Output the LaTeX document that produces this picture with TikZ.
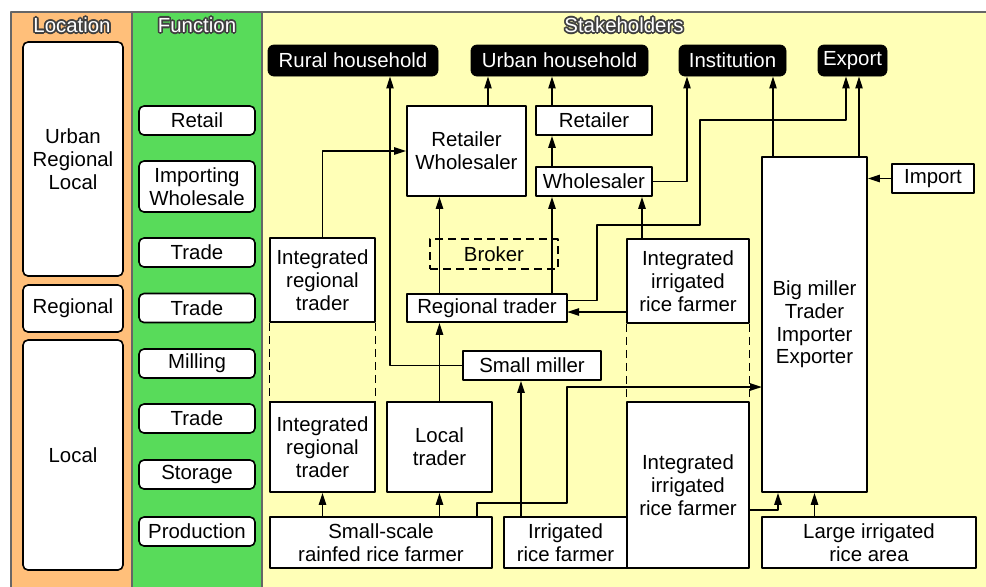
\documentclass[tikz,border=0pt]{standalone}
\usepackage{fontspec}
\setmainfont{Liberation Sans}
\usepackage{contour}
\contourlength{0.8pt}
\usetikzlibrary{arrows.meta}
\definecolor{locorange}{RGB}{255,191,122}
\definecolor{fungreen}{RGB}{88,219,90}
\definecolor{stkyellow}{RGB}{255,255,183}
\newcommand{\hdr}[1]{\contour{black!75}{\textcolor{white}{#1}}}

\begin{document}
\begin{tikzpicture}[x=0.5pt,y=-0.5pt,>={Triangle[length=6pt,width=3.6pt]},line join=round,
	font=\fontsize{10.2}{11.4}\selectfont,
	col/.style={draw=black!60,line width=0.6pt},
	box/.style={draw,line width=0.8pt,fill=white,align=center,inner sep=0pt},
	rbox/.style={box,rounded corners=2.5pt},
	blk/.style={draw,fill=black,text=white,rounded corners=3pt,inner sep=0pt},
	dbox/.style={draw,line width=0.8pt,dash pattern=on 4pt off 2.5pt,inner sep=0pt},
	dsh/.style={line width=0.6pt,dash pattern=on 4pt off 2.5pt},
	flow/.style={->,line width=0.9pt}]
	\useasboundingbox (0,0) rectangle (986,586);
	\fill[white] (0,0) rectangle (986,586);
	\filldraw[col,fill=locorange] (11,12) rectangle (132,590);
	\filldraw[col,fill=fungreen] (132,12) rectangle (262,590);
	\filldraw[col,fill=stkyellow] (262,12) rectangle (990,590);
	\node (hloc) at (72,26) {\hdr{Location}};
	\node (hfun) at (197,26) {\hdr{Function}};
	\node (hstk) at (624,26) {\hdr{Stakeholders}};

	\node[rbox,minimum width=50pt,minimum height=117pt] (loc1) at (73,159) {Urban\\Regional\\Local};
	\node[rbox,minimum width=50pt,minimum height=23.5pt] (loc2) at (73,308.5) {Regional};
	\node[rbox,minimum width=50pt,minimum height=115pt] (loc3) at (73,455) {Local};

	\node[rbox,minimum width=58pt,minimum height=25.5pt] (funimp) at (197,186.5) {Importing\\Wholesale};
	\foreach \y/\t [count=\i] in {120.5/Retail,252.5/Trade,308/Trade,363.5/Milling,418.5/Trade,474.5/Storage,531.5/Production}{
		\node[rbox,minimum width=58pt,minimum height=14.5pt] (fun\i) at (197,\y) {\t};
	}

	\node[blk,minimum width=85pt,minimum height=15.5pt] (rural) at (353,60.5) {Rural household};
	\node[blk,minimum width=88.5pt,minimum height=15.5pt] (urban) at (559.5,60.5) {Urban household};
	\node[blk,minimum width=53.5pt,minimum height=15.5pt] (inst) at (732.5,60.5) {Institution};
	\node[blk,minimum width=34.5pt,minimum height=15.5pt] (export) at (852.5,60.5) {\raisebox{1pt}{Export}};

	\node[box,minimum width=59.5pt,minimum height=45pt] (retwhole) at (466.5,151) {Retailer\\Wholesaler};
	\node[box,minimum width=58pt,minimum height=14.5pt] (retailer) at (594,120.5) {Retailer};
	\node[box,minimum width=58pt,minimum height=14.5pt] (wholesaler) at (594,181.5) {Wholesaler};
	\node[box,minimum width=41pt,minimum height=14.5pt] (import) at (933,178.5) {Import};
	\node[box,minimum width=52.5pt,minimum height=167.5pt] (big) at (814.5,324.5) {Big miller\\Trader\\Importer\\Exporter};
	\node[box,minimum width=52.5pt,minimum height=42pt] (irtup) at (322.5,280) {Integrated\\regional\\trader};
	\node[box,minimum width=52.5pt,minimum height=45pt] (irtlow) at (322.5,447) {Integrated\\regional\\trader};
	\node[dbox,minimum width=64pt,minimum height=15pt] (broker) at (494,254) {Broker};
	\node[box,minimum width=80pt,minimum height=14pt] (regional) at (487,308) {Regional trader};
	\node[box,minimum width=69pt,minimum height=14.5pt] (smiller) at (532,365.5) {Small miller};
	\node[box,minimum width=52.5pt,minimum height=45pt] (local) at (439.5,447) {Local\\trader};
	\node[box,minimum width=61pt,minimum height=42pt] (iirfup) at (688,281) {Integrated\\irrigated\\rice farmer};
	\node[box,minimum width=61pt,minimum height=83pt] (iirflow) at (688,485) {Integrated\\irrigated\\rice farmer};
	\node[box,minimum width=111pt,minimum height=25.5pt] (rainfed) at (381,542.5) {Small-scale\\rainfed rice farmer};
	\node[box,minimum width=61.5pt,minimum height=25.5pt] (irrig) at (565.5,542.5) {Irrigated\\rice farmer};
	\node[box,minimum width=107pt,minimum height=25.5pt] (large) at (869,542.5) {Large irrigated\\rice area};

	\draw[dsh] (irtup.south west) -- (irtlow.north west);
	\draw[dsh] (irtup.south east) -- (irtlow.north east);
	\draw[dsh] (iirfup.south west) -- (iirflow.north west);
	\draw[dsh] (iirfup.south east) -- (iirflow.north east);

	\coordinate (xrural) at (390,0);
	\coordinate (xurban) at (488,0);
	\coordinate (xret) at (552,0);
	\coordinate (xinst) at (687,0);
	\coordinate (xwh) at (642,0);
	\coordinate (xbig1) at (773,0);
	\coordinate (xbig2) at (859,0);
	\coordinate (xexp) at (846,0);
	\coordinate (xmill) at (521,0);
	\coordinate (xrain) at (477,0);
	\coordinate (xbigin) at (778,0);
	\coordinate (regout) at (567,300.5);
	\coordinate (regin) at (567,312);
	\coordinate (bend1) at (597,225);
	\coordinate (bend2) at (700,120);
	\coordinate (bend3) at (567,503);
	\coordinate (bigin) at (762,387);
	\coordinate (iirfout) at (749,510);

	\draw[flow] (smiller.west) -| (rural.south -| xrural);
	\draw[flow] (retwhole.north -| xurban) -- (urban.south -| xurban);
	\draw[flow] (retailer.north -| xret) -- (urban.south -| xret);
	\draw[flow] (wholesaler.north -| xret) -- (retailer.south -| xret);
	\draw[flow] (irtup.north) |- (retwhole.west);
	\draw[flow] (regional.north -| local) -- (retwhole.south -| local);
	\draw[flow] (regional.north -| xret) -- (wholesaler.south -| xret);
	\draw[flow] (wholesaler.east) -| (inst.south -| xinst);
	\draw[flow] (regout) -| (bend1) -| (bend2) -| (export.south -| xexp);
	\draw[flow] (iirfup.north -| xwh) -- (wholesaler.south -| xwh);
	\draw[flow] (iirfup.west |- regin) -- (regin);
	\draw[flow] (big.north -| xbig1) -- (inst.south -| xbig1);
	\draw[flow] (big.north -| xbig2) -- (export.south -| xbig2);
	\draw[flow] (import) -- (big.east |- import);
	\draw[flow] (local.north) -- (regional.south -| local);
	\draw[flow] (irrig.north -| xmill) -- (smiller.south -| xmill);
	\draw[flow] (rainfed.north -| xrain) |- (bend3) |- (bigin);
	\draw[flow] (rainfed.north -| irtlow) -- (irtlow.south);
	\draw[flow] (rainfed.north -| local) -- (local.south);
	\draw[flow] (iirfout) -| (big.south -| xbigin);
	\draw[flow] (large.north -| big) -- (big.south);
\end{tikzpicture}
\end{document}
